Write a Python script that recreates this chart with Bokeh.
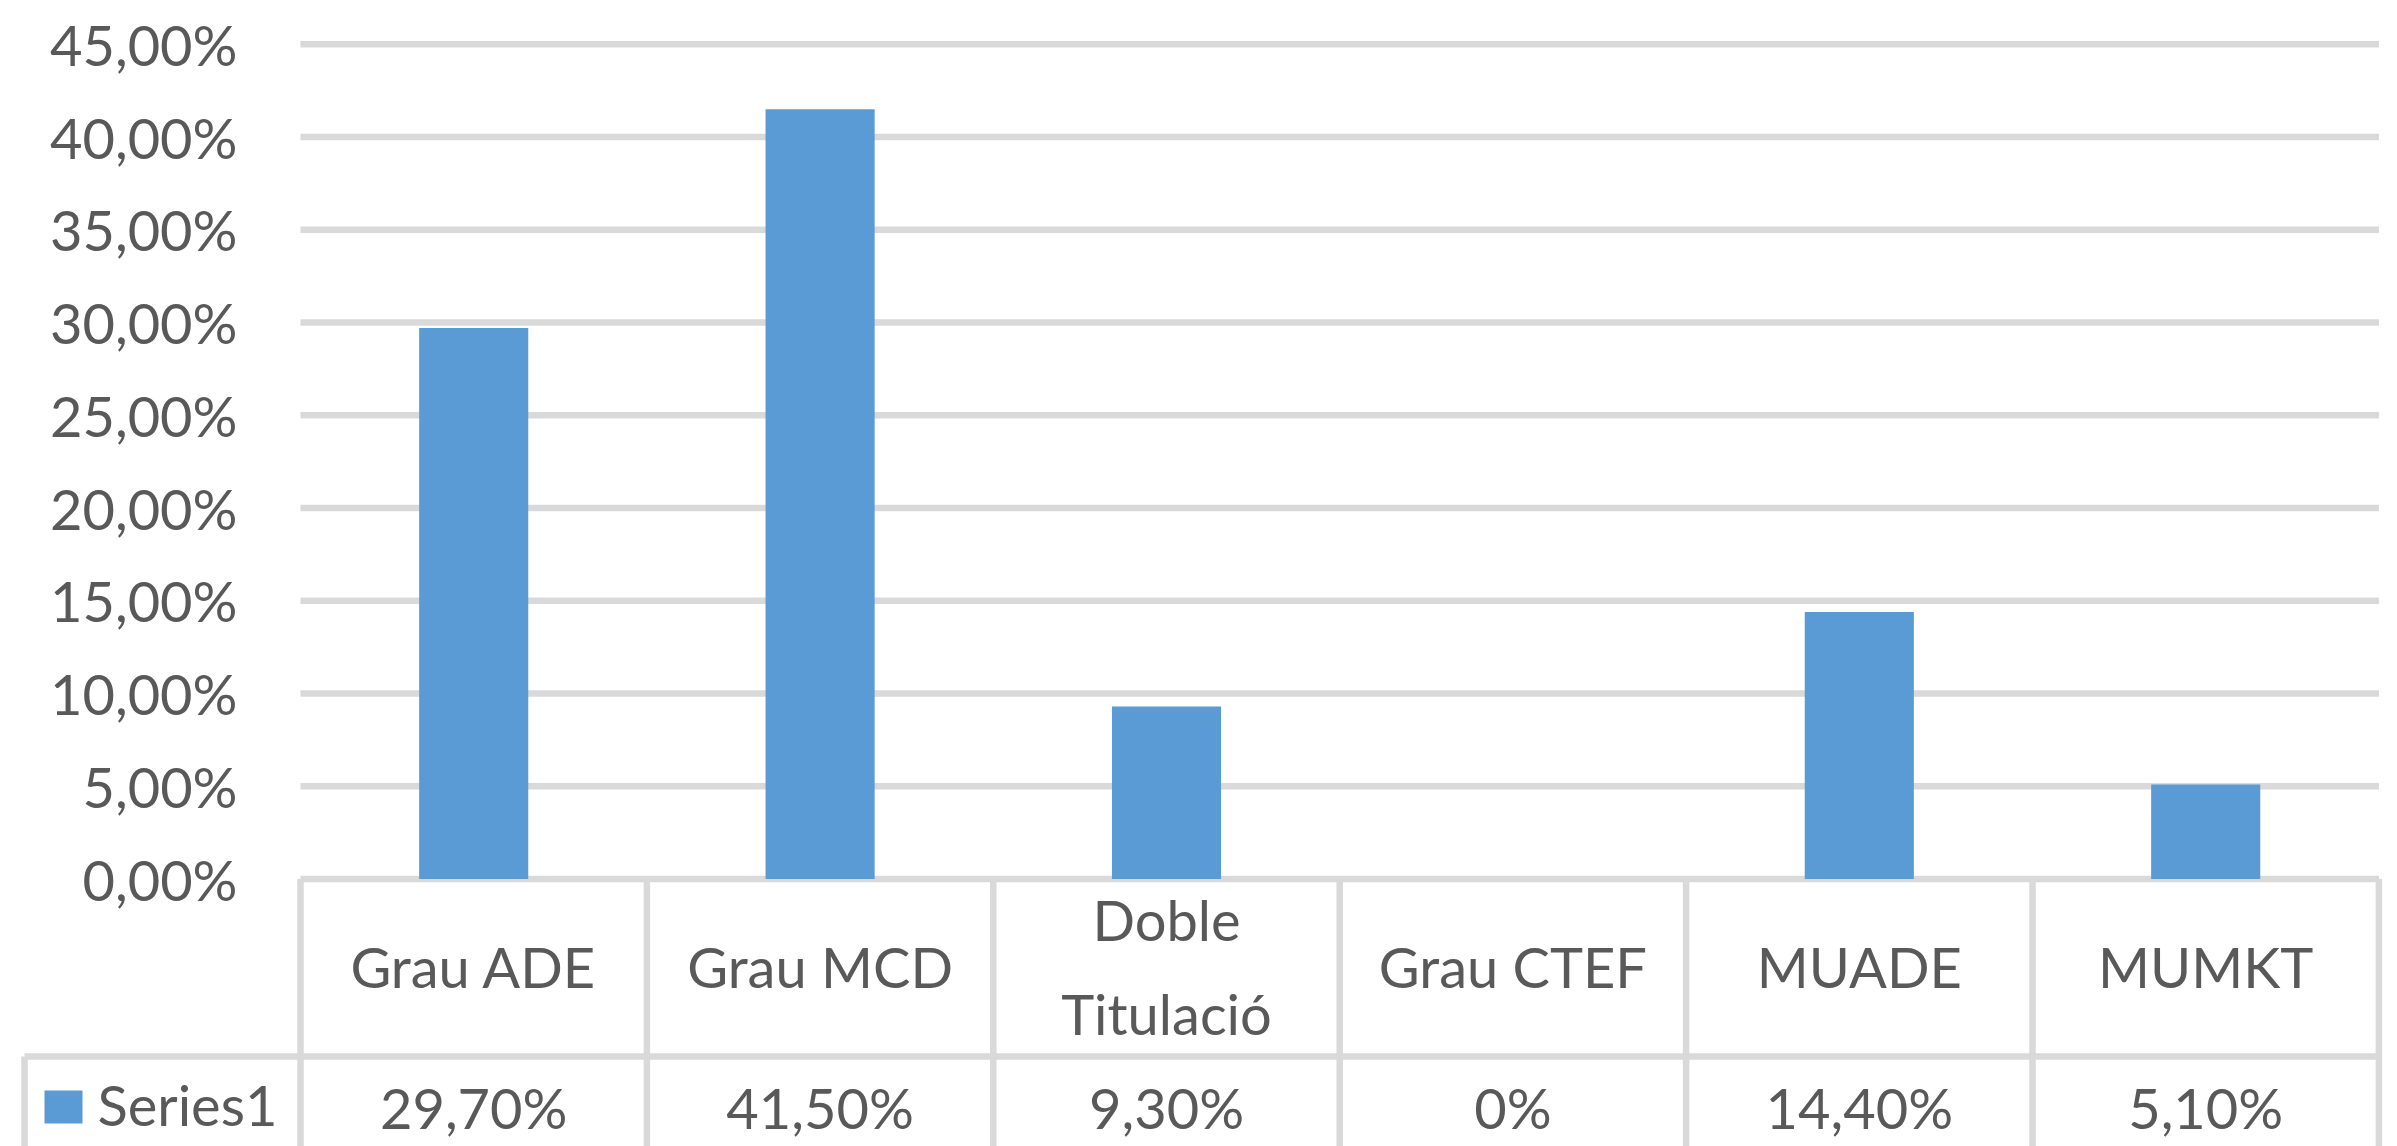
from bokeh.plotting import figure
from bokeh.models import Range1d, FixedTicker
from bokeh.core.properties import value
from bokeh.embed import file_html
from bokeh.resources import INLINE

# ---- data ----
categories = ["Grau ADE", "Grau MCD", "Doble\nTitulació", "Grau CTEF", "MUADE", "MUMKT"]
values = [29.7, 41.5, 9.3, 0.0, 14.4, 5.1]
value_labels = ["29,70%", "41,50%", "9,30%", "0%", "14,40%", "5,10%"]
series_name = "Series1"
y_ticks = [0, 5, 10, 15, 20, 25, 30, 35, 40, 45]
y_tick_labels = ["0,00%", "5,00%", "10,00%", "15,00%", "20,00%", "25,00%",
                 "30,00%", "35,00%", "40,00%", "45,00%"]

# ---- styling / layout constants ----
W, H = 2397, 1146
MARGIN = 0         # Bokeh's page template has no body margin
PX_PER_CAT = 346.4
PX_PER_PCT = 18.55
X0_PX = 300.0      # screen x of category axis start
Y0_PX = 878.5      # screen y of 0 %
BAR_COLOR = "#5b9bd5"
GRID_COLOR = "#d9d9d9"
TEXT_COLOR = "#595959"
FONT = value("Lato")
FSIZE = "56px"
LW = 6.5

def xd(px):
    return (px - X0_PX) / PX_PER_CAT

def yd(py):
    return (Y0_PX - py) / PX_PER_PCT

n = len(categories)
centers = [i + 0.5 for i in range(n)]

p = figure(width=W, height=H, output_backend="svg", toolbar_location=None,
           x_range=Range1d(xd(MARGIN), xd(MARGIN + W)),
           y_range=Range1d(yd(MARGIN + H), yd(MARGIN)),
           min_border=0, min_border_left=0, min_border_right=0,
           min_border_top=0, min_border_bottom=0)
p.outline_line_color = None
p.background_fill_color = "white"
p.border_fill_color = "white"
p.grid.visible = False
p.xaxis.visible = False

yax = p.yaxis[0]
yax.fixed_location = 0
yax.ticker = FixedTicker(ticks=y_ticks)
yax.major_label_overrides = {t: l for t, l in zip(y_ticks, y_tick_labels)}
yax.axis_line_color = None
yax.major_tick_line_color = None
yax.minor_tick_line_color = None
yax.major_label_standoff = 57
yax.major_label_text_font = "Lato"
yax.major_label_text_font_size = FSIZE
yax.major_label_text_color = TEXT_COLOR

# gridlines (from the tick list)
p.segment(x0=[0] * len(y_ticks), x1=[n] * len(y_ticks), y0=y_ticks, y1=y_ticks,
          line_color=GRID_COLOR, line_width=LW)

# bars
p.vbar(x=centers, top=values, bottom=0, width=0.315, fill_color=BAR_COLOR, line_color=None)

# ---- data table ----
y_bottom = yd(MARGIN + H)
header_y = yd(1056)
legend_left = xd(24)
# vertical dividers of category columns
p.segment(x0=list(range(n + 1)), x1=list(range(n + 1)),
          y0=[0] * (n + 1), y1=[y_bottom] * (n + 1),
          line_color=GRID_COLOR, line_width=LW)
# header bottom line, legend cell left line
p.segment(x0=[legend_left, legend_left], x1=[n, legend_left],
          y0=[header_y, header_y], y1=[header_y, y_bottom],
          line_color=GRID_COLOR, line_width=LW)

# header labels
p.text(x=centers, y=[yd(966)] * n, text=categories, text_font=FONT, text_font_size=FSIZE,
       text_color=TEXT_COLOR, text_align="center", text_baseline="middle",
       text_line_height=1.41)
# value labels
p.text(x=centers, y=[yd(1107)] * n, text=value_labels, text_font=FONT, text_font_size=FSIZE,
       text_color=TEXT_COLOR, text_align="center", text_baseline="middle")
# legend key
p.rect(x=[xd(63)], y=[yd(1106.5)], width=38, height=33,
       width_units="screen", height_units="screen", fill_color=BAR_COLOR, line_color=None)
p.text(x=[xd(97)], y=[yd(1104)], text=[series_name], text_font=FONT, text_font_size=FSIZE,
       text_color=TEXT_COLOR, text_align="left", text_baseline="middle")

open("out.html", "w").write(file_html(p, INLINE))
